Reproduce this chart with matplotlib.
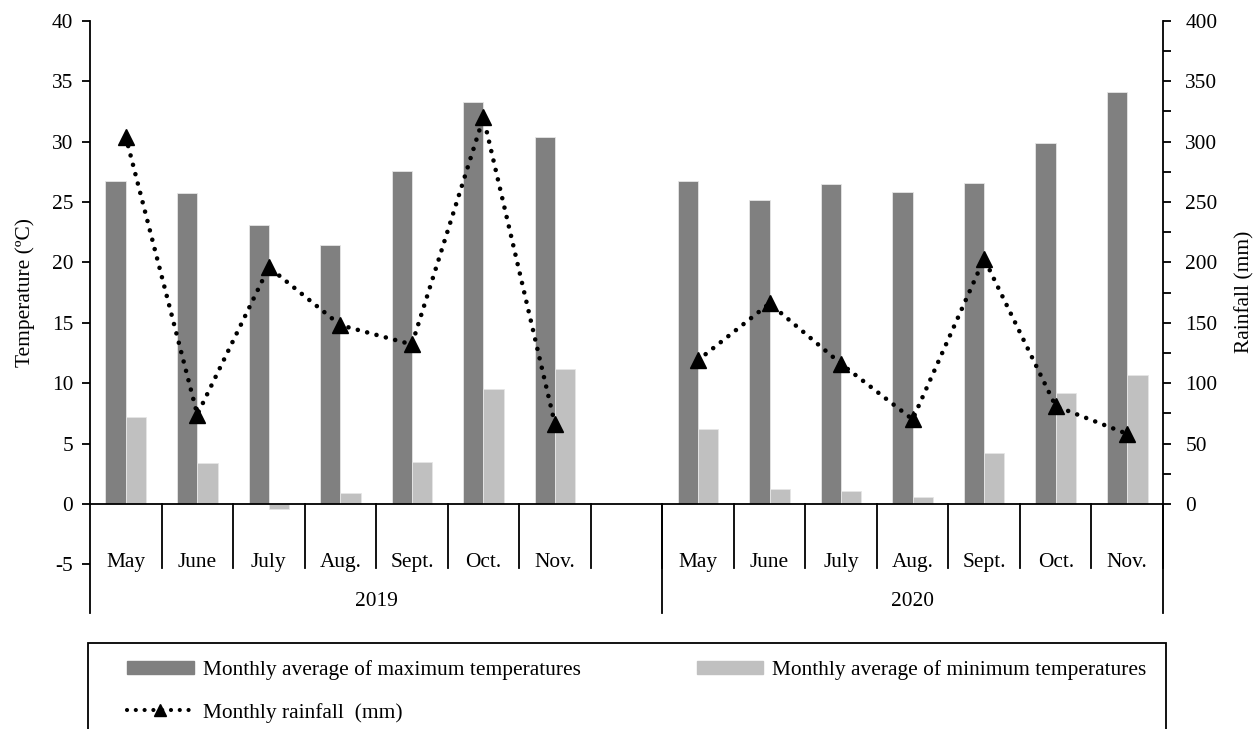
from matplotlib import pyplot as plt
from matplotlib.patches import Rectangle
from matplotlib.lines import Line2D
from matplotlib.patches import Patch
import numpy as np

plt.rcParams['font.family'] = ['Liberation Serif', 'DejaVu Serif']
plt.rcParams['font.size'] = 15.4
plt.rcParams['axes.unicode_minus'] = False

months = ['May', 'June', 'July', 'Aug.', 'Sept.', 'Oct.', 'Nov.']
years = ['2019', '2020']
tmax_2019 = [26.7, 25.7, 23.1, 21.4, 27.6, 33.3, 30.4]
tmin_2019 = [7.2, 3.4, -0.4, 0.9, 3.5, 9.5, 11.2]
rain_2019 = [304, 74, 196, 148, 132, 320, 66]
tmax_2020 = [26.7, 25.2, 26.5, 25.8, 26.6, 29.9, 34.1]
tmin_2020 = [6.2, 1.2, 1.1, 0.55, 4.2, 9.2, 10.7]
rain_2020 = [119, 166, 116, 70, 203, 81, 58]

# 2019 has an empty 8th slot, then 2020 starts
x19 = np.arange(len(months))
x20 = np.arange(len(months)) + len(months) + 1
nslots = len(months) * 2 + 1

fig = plt.figure(figsize=(12.54, 7.29), dpi=100)
ax = fig.add_axes([90/1254, 1 - 612.7/729, (1163-90)/1254, (612.7-20.7)/729])
ax2 = ax.twinx()

bw = 0.284
c_max = '#808080'
c_min = '#c0c0c0'
ax.bar(x19 - bw/2, tmax_2019, bw, color=c_max, edgecolor='#e6e6e6', linewidth=0.6, zorder=2)
ax.bar(x19 + bw/2, tmin_2019, bw, color=c_min, edgecolor='#e6e6e6', linewidth=0.6, zorder=2)
ax.bar(x20 - bw/2, tmax_2020, bw, color=c_max, edgecolor='#e6e6e6', linewidth=0.6, zorder=2)
ax.bar(x20 + bw/2, tmin_2020, bw, color=c_min, edgecolor='#e6e6e6', linewidth=0.6, zorder=2)

dots = (0, (0.01, 2.1))
for xs, rs in [(x19, rain_2019), (x20, rain_2020)]:
    ax2.plot(xs, rs, color='black', linestyle=dots, linewidth=3.3,
             dash_capstyle='round', marker='^', markersize=11.5, markeredgecolor='black')

ax.set_xlim(-0.5, nslots - 0.5)
ax.set_ylim(-9, 40)
ax2.set_ylim(-90, 400)
ax.set_yticks(np.arange(-5, 41, 5))
ax2.set_yticks(np.arange(0, 401, 50))
ax2.set_yticks(np.arange(0, 401, 25), minor=True)
ax.set_xticks([])

for a in (ax, ax2):
    for s in ('top', 'bottom'):
        a.spines[s].set_visible(False)
    a.spines['left'].set_linewidth(1.3)
    a.spines['right'].set_linewidth(1.3)
ax2.spines['left'].set_visible(False)
ax.spines['right'].set_visible(False)
ax.tick_params(axis='y', direction='out', length=6, width=1.3, pad=6)
ax2.tick_params(axis='y', which='major', direction='out', length=6, width=1.3, pad=10)
ax2.tick_params(axis='y', which='minor', direction='out', length=6, width=1.3)

# category axis at zero with two-level labels
ax.axhline(0, color='black', linewidth=1.3, zorder=3)
for i in range(nslots):
    ax.plot([i + 0.5, i + 0.5], [0, -5.3], color='black', linewidth=1.3, clip_on=False)
for b in [len(months) + 0.5]:
    ax.plot([b, b], [0, -9], color='black', linewidth=1.3, clip_on=False)
for xs in (x19, x20):
    for xi, m in zip(xs, months):
        ax.text(xi, -4.85, m, ha='center', va='center')
ax.text(len(months) / 2, -8.1, years[0], ha='center', va='center')
ax.text(x20.mean(), -8.1, years[1], ha='center', va='center')

ylab_y = 1 - (292 - 20.7) / (612.7 - 20.7)
ax.set_ylabel('Temperature (ºC)')
ax.yaxis.set_label_coords(-0.051, ylab_y)
ax2.set_ylabel('Rainfall (mm)')
ax2.yaxis.set_label_coords(1.067, ylab_y)

# legend box
fig.patches.append(Rectangle((88/1254, -0.05), (1166-88)/1254, 0.05 + 1 - 643.3/729,
                             transform=fig.transFigure, fill=False, edgecolor='black', linewidth=1.3))
handles = [Patch(color=c_max),
           Line2D([], [], color='black', linestyle=dots, linewidth=3.0,
                  dash_capstyle='round', marker='^', markersize=9),
           Patch(color=c_min)]
labels = ['Monthly average of maximum temperatures', 'Monthly rainfall  (mm)',
          'Monthly average of minimum temperatures']
fig.legend(handles, labels, ncol=2, loc='upper left', bbox_to_anchor=(108/1254, 1 - 641/729),
           frameon=False, handlelength=3.1, handleheight=0.6, handletextpad=0.45,
           labelspacing=1.05, columnspacing=5.4)

plt.savefig('out.png', dpi=100)
